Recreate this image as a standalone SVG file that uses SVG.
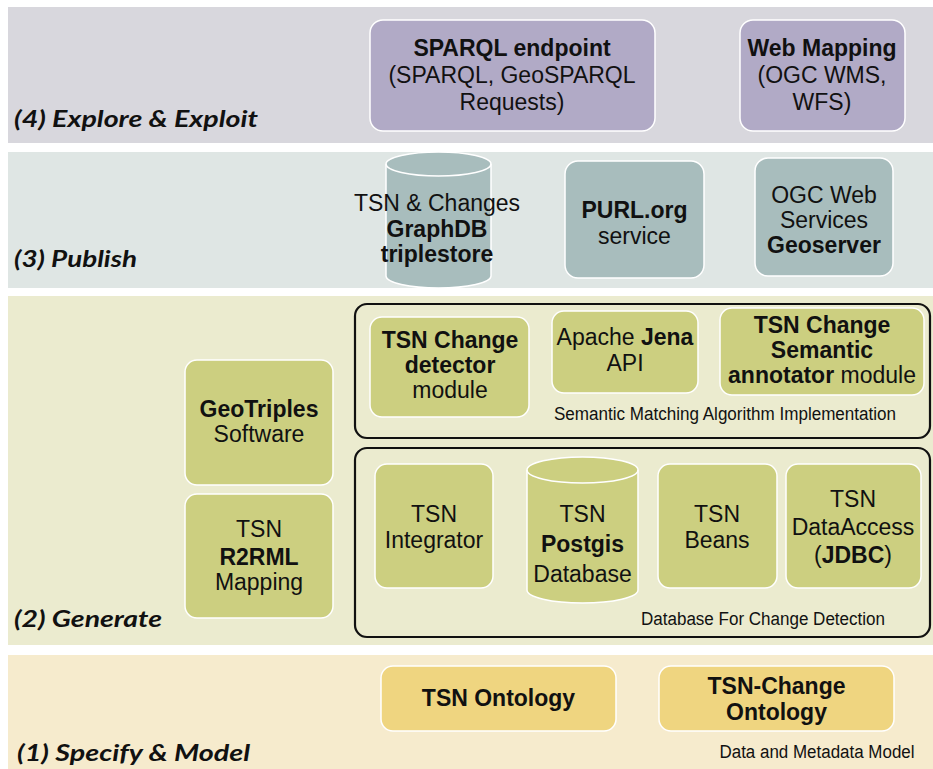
<svg xmlns="http://www.w3.org/2000/svg" width="933" height="769" viewBox="0 0 933 769">
<style>
.t{font-family:"Liberation Sans",Arial,sans-serif;font-size:23px;fill:#111;text-anchor:middle}
.b{font-weight:bold}
.lbl{font-family:Lato,"Open Sans",sans-serif;font-size:23px;font-weight:bold;font-style:italic;fill:#111}
.sm{font-family:"Liberation Sans",Arial,sans-serif;font-size:18px;fill:#111;text-anchor:middle}
.purple{fill:#b1aac6;stroke:#fff;stroke-width:1.5}
.teal{fill:#a8bdbd;stroke:#fff;stroke-width:1.5}
.green{fill:#cccf80;stroke:#fff;stroke-width:1.5}
.gold{fill:#efd580;stroke:#fff;stroke-width:1.5}
.grp{fill:none;stroke:#111;stroke-width:2.2}
</style>
<rect width="933" height="769" fill="#fff"/>
<g id="bands">
<rect x="8" y="7" width="925" height="136" fill="#d8d7dd"/>
<rect x="8" y="152" width="925" height="136" fill="#dfe6e4"/>
<rect x="8" y="296" width="925" height="349" fill="#ebebcf"/>
<rect x="8" y="655" width="925" height="114" fill="#f6ebcd"/>
</g>
<g id="layer-labels">
<text class="lbl" x="14" y="127" textLength="244" lengthAdjust="spacingAndGlyphs">(4) Explore &amp; Exploit</text>
<text class="lbl" x="14" y="267" textLength="123" lengthAdjust="spacingAndGlyphs">(3) Publish</text>
<text class="lbl" x="14" y="627" textLength="148" lengthAdjust="spacingAndGlyphs">(2) Generate</text>
<text class="lbl" x="17" y="761" textLength="233" lengthAdjust="spacingAndGlyphs">(1) Specify &amp; Model</text>
</g>
<g id="sparql-endpoint">
<rect class="purple" x="370" y="20" width="285" height="111" rx="13"/>
<text class="t b" x="512" y="56" font-size="21">SPARQL endpoint</text>
<text class="t" x="512" y="83">(SPARQL, GeoSPARQL</text>
<text class="t" x="512" y="110">Requests)</text>
</g>
<g id="web-mapping">
<rect class="purple" x="740" y="20" width="165" height="111" rx="13"/>
<text class="t b" x="822" y="56" font-size="22">Web Mapping</text>
<text class="t" x="822" y="83">(OGC WMS,</text>
<text class="t" x="822" y="110">WFS)</text>
</g>
<g id="graphdb">
<path class="teal" d="M386,164 A52.5,12 0 0 1 491,164 L491,276 A52.5,12 0 0 1 386,276 Z"/>
<path d="M386,164 A52.5,12 0 0 0 491,164" fill="none" stroke="#fff" stroke-width="1.5"/>
<text class="t" x="437" y="211">TSN &amp; Changes</text>
<text class="t b" x="437" y="237">GraphDB</text>
<text class="t b" x="437" y="262">triplestore</text>
</g>
<g id="purl">
<rect class="teal" x="565" y="161" width="139" height="117" rx="13"/>
<text class="t b" x="634.5" y="218" font-size="21">PURL.org</text>
<text class="t" x="634.5" y="244" font-size="22">service</text>
</g>
<g id="geoserver">
<rect class="teal" x="755" y="158" width="138" height="118" rx="13"/>
<text class="t" x="824" y="203">OGC Web</text>
<text class="t" x="824" y="228">Services</text>
<text class="t b" x="824" y="253" font-size="22">Geoserver</text>
</g>
<g id="semantic-matching">
<rect class="grp" x="355" y="304" width="575" height="134" rx="12"/>
<text class="sm" x="725" y="420" textLength="342" lengthAdjust="spacingAndGlyphs">Semantic Matching Algorithm Implementation</text>
</g>
<g id="change-detector">
<rect class="green" x="370" y="317" width="159" height="100" rx="12"/>
<text class="t b" x="450" y="348" font-size="22">TSN Change</text>
<text class="t b" x="450" y="373" font-size="22">detector</text>
<text class="t" x="450" y="398" font-size="22">module</text>
</g>
<g id="apache-jena">
<rect class="green" x="552" y="311" width="146" height="82" rx="12"/>
<text class="t" x="625" y="345" font-size="21">Apache <tspan class="b">Jena</tspan></text>
<text class="t" x="625" y="371" font-size="21">API</text>
</g>
<g id="semantic-annotator">
<rect class="green" x="720" y="308" width="204" height="87" rx="12"/>
<text class="t b" x="822" y="333" font-size="22">TSN Change</text>
<text class="t b" x="822" y="358" font-size="22">Semantic</text>
<text class="t" x="822" y="383" font-size="22"><tspan class="b">annotator</tspan> module</text>
</g>
<g id="database-change-detection">
<rect class="grp" x="355" y="448" width="575" height="189" rx="12"/>
<text class="sm" x="763" y="625" textLength="244" lengthAdjust="spacingAndGlyphs">Database For Change Detection</text>
</g>
<g id="tsn-integrator">
<rect class="green" x="375" y="464" width="118" height="124" rx="12"/>
<text class="t" x="434" y="522" font-size="24">TSN</text>
<text class="t" x="434" y="548" font-size="24">Integrator</text>
</g>
<g id="postgis">
<path class="green" d="M527,470 A55.5,13 0 0 1 638,470 L638,590 A55.5,13 0 0 1 527,590 Z"/>
<path d="M527,470 A55.5,13 0 0 0 638,470" fill="none" stroke="#fff" stroke-width="1.5"/>
<text class="t" x="582.5" y="522" font-size="25">TSN</text>
<text class="t b" x="582.5" y="552" font-size="25">Postgis</text>
<text class="t" x="582.5" y="582" font-size="25">Database</text>
</g>
<g id="tsn-beans">
<rect class="green" x="658" y="464" width="119" height="124" rx="12"/>
<text class="t" x="717" y="522" font-size="24">TSN</text>
<text class="t" x="717" y="548" font-size="24">Beans</text>
</g>
<g id="tsn-dataaccess">
<rect class="green" x="786" y="464" width="135" height="124" rx="12"/>
<text class="t" x="853" y="507" font-size="24">TSN</text>
<text class="t" x="853" y="535" font-size="24">DataAccess</text>
<text class="t" x="853" y="563" font-size="24">(<tspan class="b">JDBC</tspan>)</text>
</g>
<g id="geotriples">
<rect class="green" x="185" y="360" width="148" height="125" rx="12"/>
<text class="t b" x="259" y="417" font-size="22">GeoTriples</text>
<text class="t" x="259" y="442" font-size="22">Software</text>
</g>
<g id="r2rml-mapping">
<rect class="green" x="185" y="494" width="148" height="124" rx="12"/>
<text class="t" x="259" y="537" font-size="22">TSN</text>
<text class="t b" x="259" y="565" font-size="22">R2RML</text>
<text class="t" x="259" y="590" font-size="22">Mapping</text>
</g>
<g id="tsn-ontology">
<rect class="gold" x="381" y="666" width="235" height="65" rx="12"/>
<text class="t b" x="498.5" y="706" font-size="22">TSN Ontology</text>
</g>
<g id="tsn-change-ontology">
<rect class="gold" x="659" y="666" width="235" height="65" rx="12"/>
<text class="t b" x="776.5" y="694" font-size="22">TSN-Change</text>
<text class="t b" x="776.5" y="720" font-size="22">Ontology</text>
</g>
<g id="data-model-label">
<text class="sm" x="817" y="758" font-size="17" textLength="195" lengthAdjust="spacingAndGlyphs">Data and Metadata Model</text>
</g>
</svg>
